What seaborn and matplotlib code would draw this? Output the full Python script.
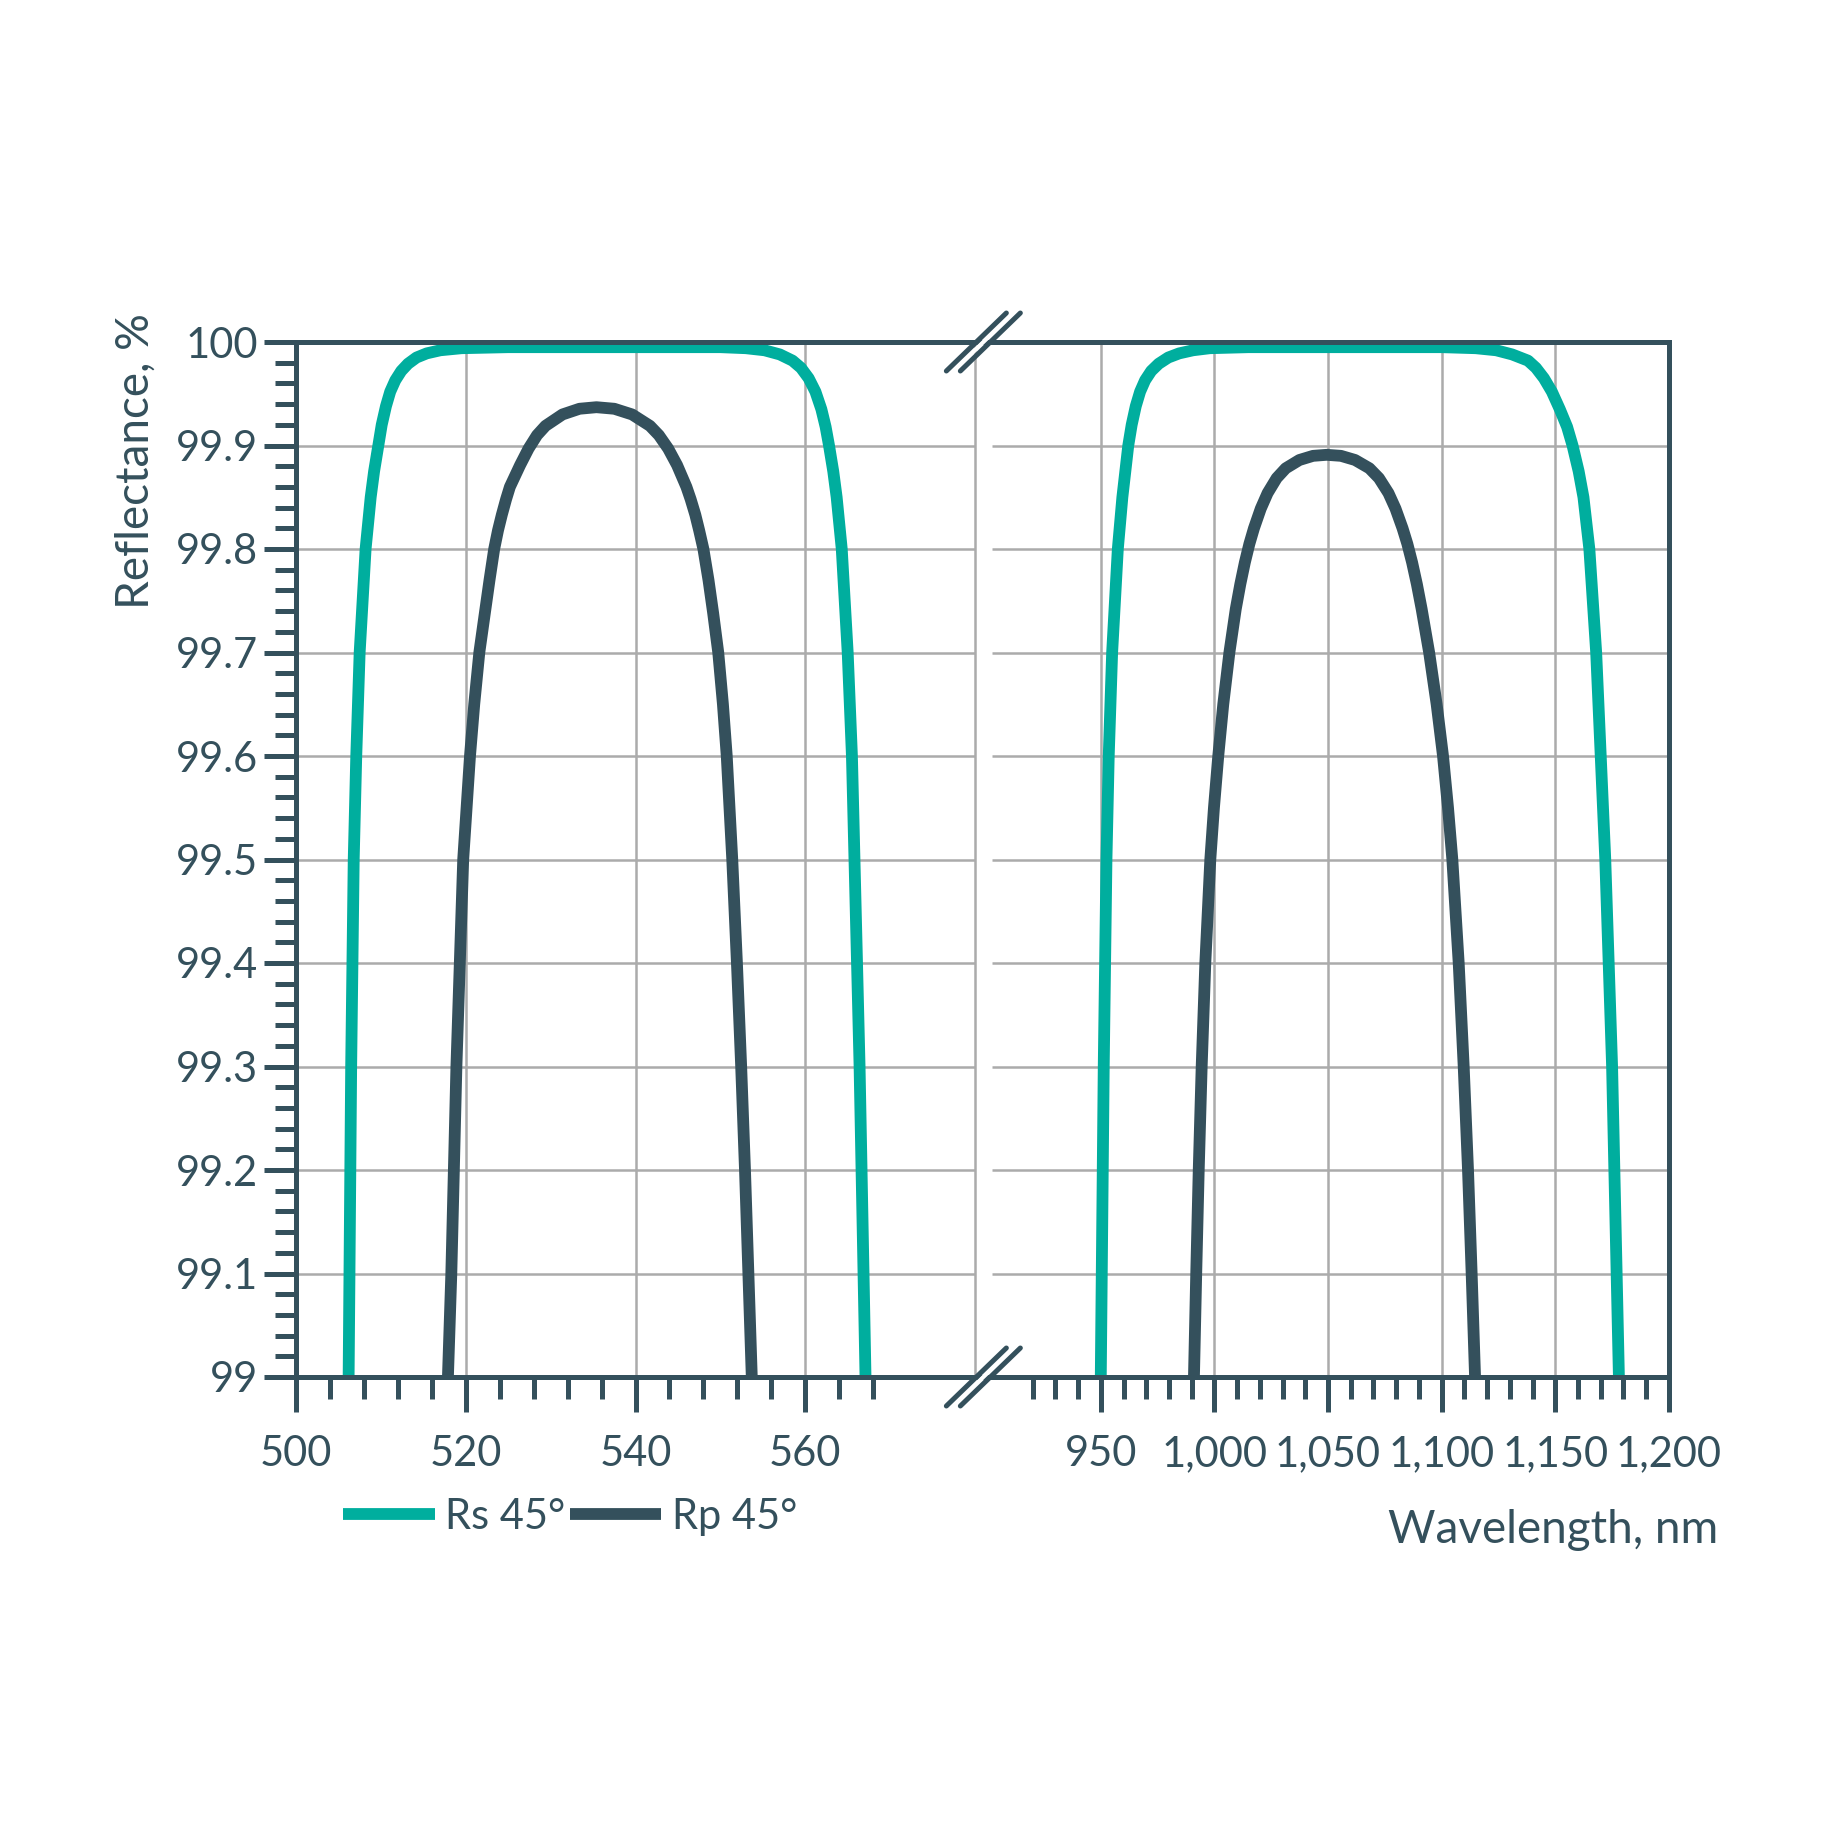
import numpy as np
import pandas as pd
import matplotlib.pyplot as plt
import seaborn as sns
from matplotlib.lines import Line2D

# reflectance, % (visible band and NIR band)
vis_rs_nm = [506.2, 506.5, 506.8, 507.1, 507.5, 508.2, 508.8, 509.2, 509.7, 510.1, 510.6, 511.1,
             511.7, 512.4, 513.2, 514.2, 515.4, 517.0, 519.5, 525.0, 540.0, 550.0, 553.0, 555.2,
             557.0, 558.5, 559.5, 560.4, 561.2, 561.9, 562.4, 562.8, 563.3, 563.7, 564.3, 565.0,
             565.5, 565.8, 566.4, 567.1]
vis_rs_r = [99.0, 99.3, 99.5, 99.6, 99.7, 99.8, 99.85, 99.875, 99.9, 99.92, 99.938, 99.952,
            99.963, 99.972, 99.979, 99.985, 99.989, 99.992, 99.994, 99.995, 99.995, 99.995, 99.994,
            99.992, 99.988, 99.982, 99.975, 99.965, 99.952, 99.935, 99.918, 99.9, 99.875, 99.85,
            99.8, 99.7, 99.6, 99.5, 99.3, 99.0]

vis_rp_nm = [517.9, 518.3, 518.9, 519.7, 520.5, 521.0, 521.6, 522.25, 522.8, 523.35, 523.8,
             524.25, 524.75, 525.2, 526.4, 527.4, 528.4, 529.4, 531.4, 533.4, 535.4, 537.5, 539.6,
             541.7, 542.75, 543.85, 544.9, 546.0, 546.5, 547.05, 547.5, 548.0, 548.6, 549.15,
             549.75, 550.3, 550.75, 551.4, 551.95, 552.45, 552.9, 553.3, 553.7]
vis_rp_r = [99.0, 99.1, 99.3, 99.5, 99.6, 99.65, 99.7, 99.738, 99.77, 99.8, 99.818,
            99.833, 99.848, 99.86, 99.881, 99.897, 99.91, 99.919, 99.93, 99.9355, 99.937, 99.9355,
            99.93, 99.919, 99.91, 99.897, 99.881, 99.86, 99.848, 99.833, 99.818, 99.8, 99.77,
            99.738, 99.7, 99.65, 99.6, 99.5, 99.4, 99.3, 99.2, 99.1, 99.0]

nir_rs_nm = [950.0, 951.3, 952.5, 953.5, 955.0, 957.5, 959.5, 960.8, 962.1, 963.6, 965.4, 967.3,
             969.5, 972.2, 975.5, 979.7, 984.5, 990.6, 998.0, 1015.0, 1050.0, 1100.0, 1115.0,
             1124.0, 1131.0, 1138.0, 1141.5, 1145.0, 1148.5, 1152.0, 1155.2, 1157.6, 1160.3,
             1162.4, 1165.0, 1168.0, 1170.0, 1172.0, 1175.0, 1178.0]
nir_rs_r = [99.0, 99.3, 99.5, 99.6, 99.7, 99.8, 99.85, 99.875, 99.9, 99.92, 99.938, 99.952,
            99.963, 99.972, 99.979, 99.985, 99.989, 99.992, 99.994, 99.995, 99.995, 99.995, 99.994,
            99.992, 99.988, 99.982, 99.975, 99.965, 99.952, 99.935, 99.918, 99.9, 99.875,
            99.85, 99.8, 99.7, 99.6, 99.5, 99.3, 99.0]

nir_rp_nm = [991.0, 992.0, 993.1, 994.4, 996.0, 998.2, 999.8, 1001.7, 1003.9, 1006.6, 1009.4,
             1011.4, 1013.4, 1015.4, 1017.4, 1020.4, 1023.4, 1027.4, 1031.4, 1037.4, 1043.4,
             1049.4, 1055.7, 1061.9, 1068.2, 1072.4, 1076.6, 1079.7, 1082.8, 1084.9, 1087.0,
             1089.1, 1091.2, 1094.5, 1097.8, 1100.6, 1102.8, 1104.7, 1107.5, 1109.7, 1111.6,
             1113.2, 1114.7]
nir_rp_r = [99.0, 99.1, 99.2, 99.3, 99.4, 99.5, 99.55, 99.6, 99.65, 99.7, 99.742,
            99.766, 99.787, 99.805, 99.82, 99.839, 99.854, 99.8685, 99.878, 99.886, 99.89,
            99.891, 99.89, 99.886, 99.878, 99.8685, 99.854, 99.839, 99.82, 99.805, 99.787,
            99.766, 99.742, 99.7, 99.65, 99.6, 99.55, 99.5, 99.4, 99.3, 99.2,
            99.1, 99.0]

vis_ticks = [500, 520, 540, 560]
vis_tick_labels = ['500', '520', '540', '560']
nir_ticks = [950, 1000, 1050, 1100, 1150, 1200]
nir_tick_labels = ['950', '1,000', '1,050', '1,100', '1,150', '1,200']
y_ticks = [99.0, 99.1, 99.2, 99.3, 99.4, 99.5, 99.6, 99.7, 99.8, 99.9, 100.0]
y_tick_labels = ['99', '99.1', '99.2', '99.3', '99.4', '99.5', '99.6', '99.7', '99.8', '99.9', '100']
series_labels = ['Rs 45°', 'Rp 45°']

teal = '#00AE9E'
dark = '#34505C'
grid_c = '#ABABAB'

sns.set_theme(style='white')
plt.rcParams['font.family'] = ['Lato', 'DejaVu Sans']
plt.rcParams['lines.solid_capstyle'] = 'butt'
plt.rcParams['lines.solid_joinstyle'] = 'round'

W = 1848
fig = plt.figure(figsize=(W / 100, W / 100), dpi=100)
ax1 = fig.add_axes([296 / W, 1 - 1377 / W, 679 / W, 1035 / W])
ax2 = fig.add_axes([991.7 / W, 1 - 1377 / W, 677.2 / W, 1035 / W])

d_vis_rs = pd.DataFrame({'nm': vis_rs_nm, 'R': vis_rs_r})
d_vis_rp = pd.DataFrame({'nm': vis_rp_nm, 'R': vis_rp_r})
d_nir_rs = pd.DataFrame({'nm': nir_rs_nm, 'R': nir_rs_r})
d_nir_rp = pd.DataFrame({'nm': nir_rp_nm, 'R': nir_rp_r})

lw = 8.5
sns.lineplot(x='nm', y='R', data=d_vis_rs, ax=ax1, color=teal, lw=lw, sort=False, estimator=None)
sns.lineplot(x='nm', y='R', data=d_vis_rp, ax=ax1, color=dark, lw=lw, sort=False, estimator=None)
sns.lineplot(x='nm', y='R', data=d_nir_rs, ax=ax2, color=teal, lw=lw, sort=False, estimator=None)
sns.lineplot(x='nm', y='R', data=d_nir_rp, ax=ax2, color=dark, lw=lw, sort=False, estimator=None)

ax1.set_xlim(500, 580)
ax2.set_xlim(902, 1200)
for ax in (ax1, ax2):
    ax.set_ylim(99, 100)
    ax.set_yticks(y_ticks, y_tick_labels)
    ax.set_yticks(np.arange(99, 100.001, 0.02), minor=True)
    ax.set_axisbelow(True)
    ax.grid(True, which='major', color=grid_c, lw=1.8)
    ax.set_xlabel('')
    ax.set_ylabel('')
    for s in ax.spines.values():
        s.set_color(dark)
        s.set_linewidth(3.6)
    ax.tick_params(axis='x', which='major', direction='out', length=25, width=3.6,
                   colors=dark, labelsize=30, pad=17, bottom=True)
    ax.tick_params(axis='x', which='minor', direction='out', length=16, width=3.6,
                   colors=dark, bottom=True)
    ax.tick_params(axis='y', which='major', direction='out', length=23, width=3.6,
                   colors=dark, labelsize=30, pad=4, left=True)
    ax.tick_params(axis='y', which='minor', direction='out', length=15, width=3.6,
                   colors=dark, left=True)

ax1.set_xticks(vis_ticks, vis_tick_labels)
ax1.set_xticks([x for x in range(504, 569, 4) if x % 20], minor=True)
ax1.axvline(580, color=grid_c, lw=1.8, zorder=0.5, clip_on=False)
ax1.spines['right'].set_visible(False)

ax2.set_xticks(nir_ticks, nir_tick_labels)
ax2.set_xticks([x for x in range(920, 1200, 10) if x % 50], minor=True)
ax2.spines['left'].set_visible(False)
ax2.tick_params(axis='y', which='both', left=False, labelleft=False)

ax1.set_ylabel('Reflectance, %', fontsize=33, color=dark)
ax1.yaxis.set_label_coords(-0.205, 0.885)
ax2.set_xlabel('Wavelength, nm', fontsize=33, color=dark, ha='right')
ax2.xaxis.set_label_coords(1.0725, -0.128)

# close the gap in top / bottom frame and draw the break marks
p1, p2 = ax1.get_position(), ax2.get_position()
cx = (p1.x1 + p2.x0) / 2
for yf in (p1.y1, p1.y0):
    fig.add_artist(Line2D([p1.x1, p2.x0], [yf, yf], transform=fig.transFigure,
                          color=dark, lw=3.6))
    fig.add_artist(Line2D([cx - 30 / W, cx + 30 / W], [yf - 29 / W, yf + 29 / W],
                          transform=fig.transFigure, color='white', lw=3.0))
    for off in (-7, 7):
        fig.add_artist(Line2D([cx + (off - 30) / W, cx + (off + 30) / W],
                              [yf - 29 / W, yf + 29 / W], transform=fig.transFigure,
                              color=dark, lw=3.6, solid_capstyle='round'))

handles = [Line2D([], [], color=teal, lw=lw), Line2D([], [], color=dark, lw=lw)]
fig.legend(handles, series_labels, loc='center left', bbox_to_anchor=(343 / W, 1 - 1517 / W),
           ncol=2, frameon=False, handlelength=2.2, handletextpad=0.25, columnspacing=0.1,
           borderpad=0, borderaxespad=0, fontsize=30, labelcolor=dark)

fig.savefig('out.png', dpi=100, facecolor='white')
